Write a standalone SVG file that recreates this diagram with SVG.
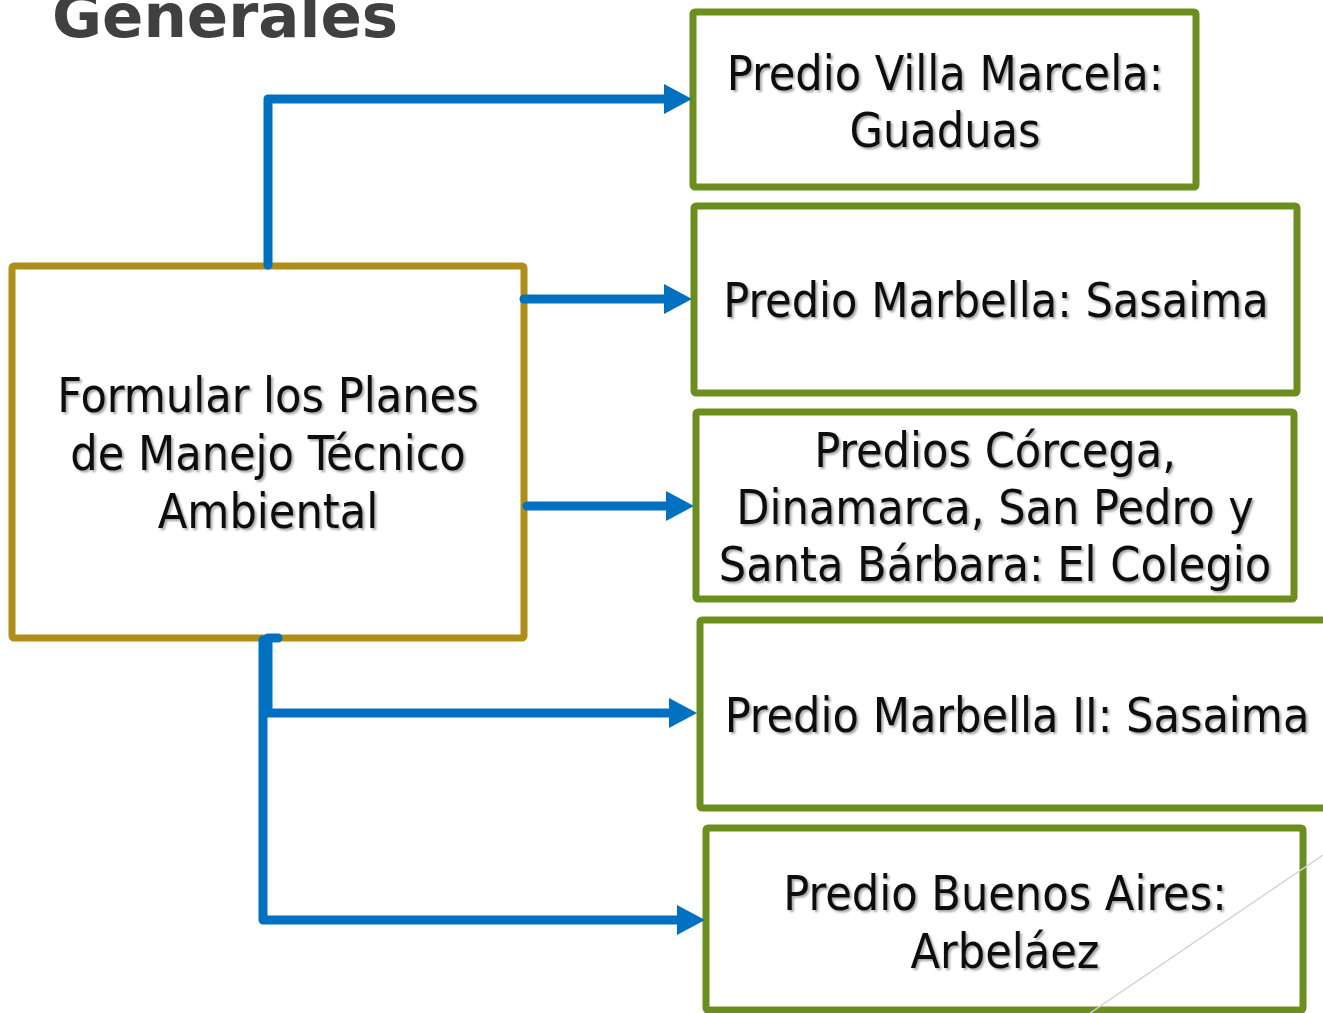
<svg xmlns="http://www.w3.org/2000/svg" width="1323" height="1013" viewBox="0 0 1323 1013">
  <defs>
    <style>
      .box-g { fill: #ffffff; stroke: #6B8E1F; stroke-width: 7; stroke-linejoin: round; }
      .box-o { fill: #ffffff; stroke: #B08D18; stroke-width: 7; stroke-linejoin: round; }
      .lbl { font-family: "DejaVu Sans Condensed", "DejaVu Sans", sans-serif; font-stretch: condensed; font-size: 48px; fill: #111111; text-anchor: middle; filter: url(#shadow); }
      .title { font-family: "DejaVu Sans", sans-serif; font-weight: bold; font-size: 61px; fill: #404040; }
      .conn { fill: none; stroke: #0070C0; stroke-width: 9; stroke-linecap: round; stroke-linejoin: round; marker-end: url(#arrow); }
    </style>
    <marker id="arrow" viewBox="0 -15 28 30" markerWidth="28" markerHeight="30" refX="0" refY="0" orient="auto" markerUnits="userSpaceOnUse">
      <path d="M0,-15 L28,0 L0,15 z" fill="#0070C0"/>
    </marker>
    <filter id="shadow" x="-10%" y="-20%" width="120%" height="150%">
      <feDropShadow dx="2" dy="2" stdDeviation="1.2" flood-color="#000000" flood-opacity="0.35"/>
    </filter>
  </defs>
  <rect width="1323" height="1013" fill="#ffffff"/>
  <text class="title" x="52" y="37">Generales</text>

  <g id="node-center">
    <rect class="box-o" x="12" y="266" width="512" height="372" rx="2"/>
    <text class="lbl" x="268" y="412">Formular los Planes</text>
    <text class="lbl" x="268" y="470">de Manejo Técnico</text>
    <text class="lbl" x="268" y="528">Ambiental</text>
  </g>
  <g id="node-villa-marcela">
    <rect class="box-g" x="693" y="12" width="503" height="175" rx="2"/>
    <text class="lbl" x="945" y="90">Predio Villa Marcela:</text>
    <text class="lbl" x="945" y="147">Guaduas</text>
  </g>
  <g id="node-marbella">
    <rect class="box-g" x="694" y="206" width="603" height="187" rx="2"/>
    <text class="lbl" x="996" y="317">Predio Marbella: Sasaima</text>
  </g>
  <g id="node-corcega">
    <rect class="box-g" x="696" y="412" width="598" height="187" rx="2"/>
    <text class="lbl" x="995" y="467">Predios Córcega,</text>
    <text class="lbl" x="995" y="524">Dinamarca, San Pedro y</text>
    <text class="lbl" x="995" y="581">Santa Bárbara: El Colegio</text>
  </g>
  <g id="node-marbella-ii">
    <rect class="box-g" x="700" y="620" width="640" height="188" rx="2"/>
    <text class="lbl" x="1017" y="732">Predio Marbella II: Sasaima</text>
  </g>
  <g id="node-buenos-aires">
    <rect class="box-g" x="706" y="828" width="597" height="182" rx="2"/>
    <text class="lbl" x="1005" y="910">Predio Buenos Aires:</text>
    <text class="lbl" x="1005" y="968">Arbeláez</text>
  </g>

  <line x1="1323" y1="855" x2="1090" y2="1013" stroke="#D4D4D4" stroke-width="1.5"/>

  <g id="connectors">
    <path class="conn" d="M268,265 V99 H664"/>
    <path class="conn" d="M524,299 H664"/>
    <path class="conn" d="M527,506 H666"/>
    <path class="conn" d="M278,638 H268 V713 H669"/>
    <path class="conn" d="M263,640 V920 H677"/>
  </g>
</svg>
